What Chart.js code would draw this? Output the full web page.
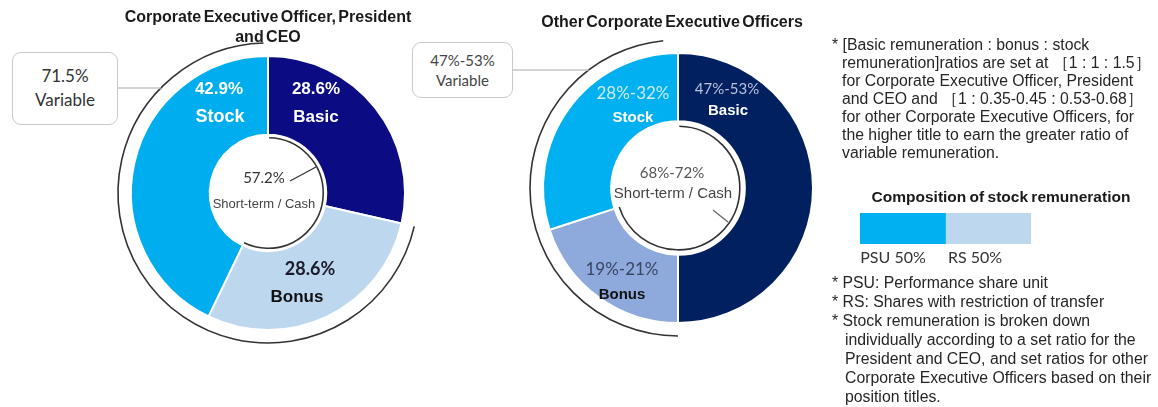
<!DOCTYPE html>
<html>
<head>
<meta charset="utf-8">
<script src="https://cdn.jsdelivr.net/npm/chart.js@4.4.1/dist/chart.umd.min.js"></script>
<style>
    body { margin: 0; background: #fff; width: 1158px; height: 407px; overflow: hidden; position: relative; font-family: "Liberation Sans", Arial, sans-serif; }
    canvas { position: absolute; }
    .lbl { position: absolute; transform: translate(-50%, -50%); white-space: nowrap; line-height: 1; }
    .lato { font-family: Lato, "Liberation Sans", sans-serif; }
    .title { position: absolute; transform: translateX(-50%); font-weight: bold; font-size: 16px; word-spacing: -2px; color: #1a1a1a; text-align: center; line-height: 20px; white-space: nowrap; }
    .box { position: absolute; border: 1.5px solid #c9c9c9; border-radius: 9px; background: #fff; text-align: center; color: #333; box-sizing: border-box; font-family: Lato, sans-serif; }
    .notes { position: absolute; font-size: 15.8px; color: #262626; white-space: nowrap; }
    .notes div { padding-left: 10px; text-indent: -10px; }
</style>
</head>
<body>
<canvas id="ceoChart" width="536" height="386" style="left:0;top:0"></canvas>
<canvas id="otherChart" width="556" height="376" style="left:400px;top:0"></canvas>
<canvas id="stockBar" width="171" height="31" style="left:860px;top:213px"></canvas>
<div id="texts"></div>

<script>
// segment order is clockwise from 12 o'clock
const segments = ["Basic", "Bonus", "Stock"];

const ceoShares = [28.6, 28.6, 42.9];
const ceoLabels = ["28.6%", "28.6%", "42.9%"];
const ceoVariable = "71.5%";
const ceoCash = "57.2%";

const otherShares = [50, 20, 30];
const otherLabels = ["47%-53%", "19%-21%", "28%-32%"];
const otherVariable = "47%-53%";
const otherCash = "68%-72%";

const stockParts = ["PSU", "RS"];
const stockShares = [50, 50];

const ceoColors = ["#0b0b84", "#bdd7ee", "#00aeef"];
const otherColors = ["#012060", "#8eaadc", "#00b0f0"];
const stockColors = ["#00b0f0", "#bdd7ee"];

// brackets: outer line over the variable part (bonus + stock),
// inner line over the cash part (basic + bonus)
const ringPlugin = {
    id: "rings",
    afterDatasetsDraw(chart, args, opts) {
        const arcs = chart.getDatasetMeta(0).data;
        const ctx = chart.ctx;
        const cx = arcs[0].x;
        const cy = arcs[0].y;
        const outerR = arcs[0].outerRadius + opts.outerGap;
        const innerR = arcs[0].innerRadius - opts.innerGap;

        ctx.save();
        ctx.strokeStyle = "#333";
        ctx.lineWidth = 1.6;

        ctx.beginPath();
        ctx.arc(cx, cy, outerR, arcs[1].startAngle, arcs[2].endAngle - opts.endTrim);
        ctx.stroke();

        ctx.beginPath();
        ctx.arc(cx, cy, innerR, arcs[0].startAngle + 0.02, arcs[1].endAngle);
        ctx.stroke();

        // small pointer from the cash label to the inner line
        ctx.lineWidth = 1.3;
        ctx.strokeStyle = opts.pointerColor;
        ctx.beginPath();
        ctx.moveTo(cx + opts.pointer[0], cy + opts.pointer[1]);
        ctx.lineTo(cx + opts.pointer[2], cy + opts.pointer[3]);
        ctx.stroke();

        // connector from the callout box to the outer line
        const dy = opts.boxY - cy;
        const dx = Math.sqrt(outerR * outerR - dy * dy);
        ctx.strokeStyle = "#c4c4c4";
        ctx.lineWidth = 1.5;
        ctx.beginPath();
        ctx.moveTo(opts.boxX, opts.boxY);
        ctx.lineTo(cx - dx, opts.boxY);
        ctx.stroke();
        ctx.restore();
    }
};

function makeDonut(id, shares, colors, radius, cutout, rings) {
    return new Chart(document.getElementById(id), {
        type: "doughnut",
        data: {
            labels: segments,
            datasets: [{
                data: shares,
                backgroundColor: colors,
                borderColor: "#fff",
                borderWidth: 2,
            }],
        },
        options: {
            responsive: false,
            animation: false,
            radius: radius,
            cutout: cutout,
            layout: { padding: 0 },
            plugins: {
                legend: { display: false },
                tooltip: { enabled: false },
                rings: rings,
            },
        },
        plugins: [ringPlugin],
    });
}

makeDonut("ceoChart", ceoShares, ceoColors, 137, "42.5%", {
    outerGap: 13, innerGap: 3, endTrim: 0.03,
    pointer: [22, -12, 48, -26], pointerColor: "#333",
    boxX: 118, boxY: 88,
});

makeDonut("otherChart", otherShares, otherColors, 135, "49.5%", {
    outerGap: 13, innerGap: 5, endTrim: 0.1,
    pointer: [35, 22, 50, 34], pointerColor: "#666",
    boxX: 113, boxY: 70,
});

new Chart(document.getElementById("stockBar"), {
    type: "bar",
    data: {
        labels: [""],
        datasets: stockParts.map((p, i) => ({
            label: p,
            data: [stockShares[i]],
            backgroundColor: stockColors[i],
            borderWidth: 0,
            barPercentage: 1,
            categoryPercentage: 1,
        })),
    },
    options: {
        indexAxis: "y",
        responsive: false,
        animation: false,
        layout: { padding: 0 },
        scales: {
            x: { stacked: true, display: false, min: 0, max: 100 },
            y: { stacked: true, display: false },
        },
        plugins: { legend: { display: false }, tooltip: { enabled: false } },
    },
});

// text layer
const texts = document.getElementById("texts");
function label(text, x, y, style, cls) {
    const d = document.createElement("div");
    d.className = "lbl " + (cls || "");
    d.style.left = x + "px";
    d.style.top = y + "px";
    d.style.cssText += style;
    d.textContent = text;
    texts.appendChild(d);
}

texts.innerHTML = `
<div class="title" style="left:268px;top:7px">Corporate Executive Officer, President<br>and CEO</div>
<div class="title" style="left:672px;top:12px">Other Corporate Executive Officers</div>
<div class="box" style="left:12px;top:52px;width:106px;height:73px;font-size:17px;line-height:24px;padding-top:11px">${ceoVariable}<br>Variable</div>
<div class="box" style="left:412px;top:42px;width:101px;height:56px;font-size:15px;line-height:20px;padding-top:7px;color:#444">${otherVariable}<br>Variable</div>
<div class="notes" style="left:832px;top:36px;line-height:18px">
<div>* [Basic remuneration : bonus : stock<br>remuneration]ratios are set at ［1 : 1 : 1.5］<br>for Corporate Executive Officer, President<br>and CEO and ［1 : 0.35-0.45 : 0.53-0.68］<br>for other Corporate Executive Officers, for<br>the higher title to earn the greater ratio of<br>variable remuneration.</div>
</div>
<div class="lbl" style="left:1001px;top:197px;font-weight:bold;font-size:15.5px;color:#1a1a1a;word-spacing:-1px">Composition of stock remuneration</div>
<div class="notes" style="left:832px;top:273px;line-height:19px">
<div>* PSU: Performance share unit</div>
<div>* RS: Shares with restriction of transfer</div>
<div style="padding-left:13px;text-indent:-13px">* Stock remuneration is broken down<br>individually according to a set ratio for the<br>President and CEO, and set ratios for other<br>Corporate Executive Officers based on their<br>position titles.</div>
</div>`;

// stock composition labels
label(`${stockParts[0]} ${stockShares[0]}%`, 893, 257, "font-size:16px;color:#333", "lato");
label(`${stockParts[1]} ${stockShares[1]}%`, 975, 257, "font-size:16px;color:#333", "lato");

// CEO donut labels
label(ceoLabels[2], 219, 88, "font-size:17px;font-weight:bold;color:#fff");
label(segments[2], 220, 116, "font-size:18px;font-weight:bold;color:#fff");
label(ceoLabels[0], 316, 88, "font-size:17px;font-weight:bold;color:#fff");
label(segments[0], 316, 116, "font-size:17px;font-weight:bold;color:#fff");
label(ceoLabels[1], 310, 268, "font-size:18px;font-weight:bold;color:#1a1a2a", "lato");
label(segments[1], 297, 296, "font-size:17px;font-weight:bold;color:#111");
label(ceoCash, 264, 177, "font-size:15px;color:#333", "lato");
label("Short-term / Cash", 264, 203, "font-size:13px;color:#444");

// other officers donut labels
label(otherLabels[2], 633, 92, "font-size:17px;color:#cdebf8", "lato");
label(segments[2], 633, 116, "font-size:15px;font-weight:bold;color:#fff");
label(otherLabels[0], 727, 88, "font-size:15px;color:#b9c3dc", "lato");
label(segments[0], 728, 109, "font-size:15px;font-weight:bold;color:#fff");
label(otherLabels[1], 622, 268, "font-size:17px;color:#3a4560", "lato");
label(segments[1], 622, 293, "font-size:15px;font-weight:bold;color:#111");
label(otherCash, 672, 172, "font-size:15px;color:#555", "lato");
label("Short-term / Cash", 673, 192, "font-size:15px;color:#444");
</script>
</body>
</html>
